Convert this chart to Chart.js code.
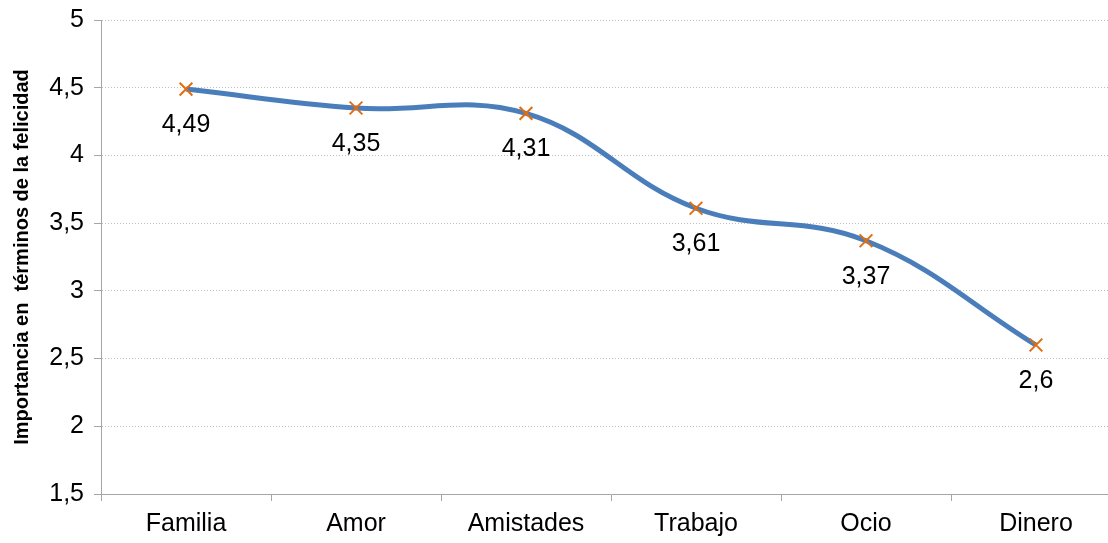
<!DOCTYPE html>
<html>
<head>
<meta charset="utf-8">
<script src="https://cdn.jsdelivr.net/npm/chart.js@4"></script>
<style>
  html, body { margin: 0; padding: 0; background: #fff; overflow: hidden; }
  #wrap { width: 1108px; height: 543px; overflow: hidden; }
</style>
</head>
<body>
<div id="wrap"><canvas id="myChart" width="1132" height="543"></canvas></div>
<script>
const categories = ['Familia', 'Amor', 'Amistades', 'Trabajo', 'Ocio', 'Dinero'];
const values = [4.49, 4.35, 4.31, 3.61, 3.37, 2.6];
const yTitle = 'Importancia en  términos de la felicidad';

const fmt = v => String(v).replace('.', ',');
const FONT = '"Liberation Sans", Arial, sans-serif';

// labels under each point, like the Excel data labels
const pointLabels = {
    id: 'pointLabels',
    afterDatasetsDraw(chart) {
        const ctx = chart.ctx;
        const meta = chart.getDatasetMeta(0);
        ctx.save();
        ctx.font = '25px ' + FONT;
        ctx.fillStyle = '#000';
        ctx.textAlign = 'center';
        ctx.textBaseline = 'middle';
        meta.data.forEach((pt, i) => {
            ctx.fillText(fmt(values[i]), pt.x, pt.y + 36);
        });
        ctx.restore();
    }
};

const data = {
    labels: categories,
    datasets: [{
        data: values,
        borderColor: '#4A7EBB',
        borderWidth: 5,
        tension: 0.4,
        pointStyle: 'crossRot',
        pointRadius: 9,
        pointBorderWidth: 2,
        pointBorderColor: '#E46C0A',
        pointBackgroundColor: '#E46C0A'
    }]
};

const config = {
    type: 'line',
    data: data,
    options: {
        responsive: false,
        animation: false,
        layout: { padding: { top: 20, right: 0, left: 0, bottom: 0 } },
        plugins: {
            legend: { display: false },
            tooltip: { enabled: false }
        },
        scales: {
            x: {
                offset: true,
                grid: {
                    offset: true,
                    drawOnChartArea: false,
                    tickLength: 7,
                    tickColor: '#A6A6A6'
                },
                border: { color: '#A6A6A6', width: 1 },
                ticks: {
                    color: '#000',
                    font: { family: FONT, size: 25 },
                    padding: 8,
                    maxRotation: 0
                },
                afterFit(scale) { scale.height = 49; }
            },
            y: {
                min: 1.5,
                max: 5,
                ticks: {
                    stepSize: 0.5,
                    color: '#000',
                    font: { family: FONT, size: 25, lineHeight: 0.8 },
                    padding: 10,
                    callback: v => fmt(v)
                },
                grid: {
                    color: '#BFBFBF',
                    tickLength: 7,
                    tickColor: '#A6A6A6',
                    tickBorderDash: [],
                    lineWidth: 1
                },
                border: { color: '#A6A6A6', dash: [1, 2] },
                title: {
                    display: true,
                    text: yTitle,
                    color: '#000',
                    font: { family: FONT, size: 20, weight: 'bold' },
                    padding: { top: 10, bottom: 4 }
                },
                afterFit(scale) { scale.width = 101; }
            }
        }
    },
    plugins: [pointLabels]
};

const myChart = new Chart(document.getElementById('myChart'), config);
</script>
</body>
</html>
